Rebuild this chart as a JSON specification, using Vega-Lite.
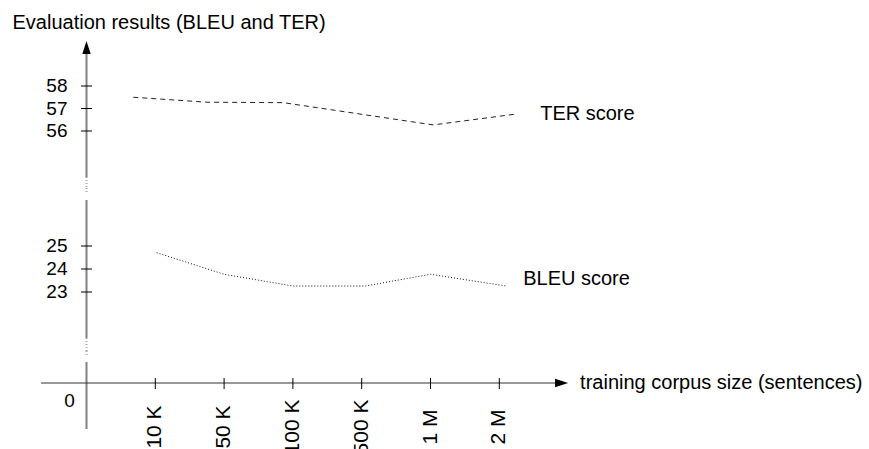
{
  "$schema": "https://vega.github.io/schema/vega-lite/v6.json",
  "padding": 0,
  "background": "white",
  "spacing": 0,
  "bounds": "flush",
  "config": {"view": {"stroke": null}, "text": {"font": "Liberation Sans", "color": "black"}},
  "datasets": {
    "ter": [
      {"pos": 0.68, "score": 57.5},
      {"pos": 1.75, "score": 57.28},
      {"pos": 2.86, "score": 57.26},
      {"pos": 5.04, "score": 56.27},
      {"pos": 6.26, "score": 56.76}
    ],
    "bleu": [
      {"pos": 1.02, "score": 24.71},
      {"pos": 2, "score": 23.77},
      {"pos": 3, "score": 23.26},
      {"pos": 4.05, "score": 23.26},
      {"pos": 5, "score": 23.77},
      {"pos": 6.1, "score": 23.26}
    ],
    "terTicks": [{"v": 56, "label": "56"}, {"v": 57, "label": "57"}, {"v": 58, "label": "58"}],
    "bleuTicks": [{"v": 23, "label": "23"}, {"v": 24, "label": "24"}, {"v": 25, "label": "25"}],
    "sizes": [
      {"pos": 1, "label": "10 K"},
      {"pos": 2, "label": "50 K"},
      {"pos": 3, "label": "100 K"},
      {"pos": 4, "label": "500 K"},
      {"pos": 5, "label": "1 M"},
      {"pos": 6, "label": "2 M"}
    ]
  },
  "vconcat": [
    {
      "width": 869,
      "height": 188,
      "layer": [
        {
          "data": {"values": [{}]},
          "mark": {"type": "rule", "color": "#808080", "strokeWidth": 2},
          "encoding": {
            "x": {"datum": 0, "type": "quantitative", "scale": {"domain": [-1.2573, 11.3735], "nice": false, "zero": false}, "axis": null},
            "y": {"datum": 59.6, "type": "quantitative", "scale": {"domain": [53.467, 61.822], "nice": false, "zero": false}, "axis": null},
            "y2": {"datum": 53.956}
          }
        },
        {
          "data": {"values": [{}]},
          "mark": {"type": "rule", "color": "#a8a8a8", "strokeWidth": 2, "strokeDash": [1, 2]},
          "encoding": {
            "x": {"datum": 0, "type": "quantitative", "scale": {"domain": [-1.2573, 11.3735], "nice": false, "zero": false}, "axis": null},
            "y": {"datum": 53.956, "type": "quantitative", "scale": {"domain": [53.467, 61.822], "nice": false, "zero": false}, "axis": null},
            "y2": {"datum": 53.467}
          }
        },
        {
          "data": {"values": [{}]},
          "mark": {"type": "point", "shape": "M0,0L-0.6,1.86L0.6,1.86Z", "size": 196, "filled": true, "color": "black", "opacity": 1},
          "encoding": {
            "x": {"datum": 0, "type": "quantitative", "scale": {"domain": [-1.2573, 11.3735], "nice": false, "zero": false}, "axis": null},
            "y": {"datum": 60, "type": "quantitative", "scale": {"domain": [53.467, 61.822], "nice": false, "zero": false}, "axis": null}
          }
        },
        {
          "data": {"name": "terTicks"},
          "mark": {"type": "rule", "color": "black", "strokeWidth": 1},
          "encoding": {
            "x": {"datum": -0.08, "type": "quantitative", "scale": {"domain": [-1.2573, 11.3735], "nice": false, "zero": false}, "axis": null},
            "x2": {"datum": 0.08},
            "y": {"field": "v", "type": "quantitative", "scale": {"domain": [53.467, 61.822], "nice": false, "zero": false}, "axis": null}
          }
        },
        {
          "data": {"name": "terTicks"},
          "mark": {"type": "text", "align": "right", "baseline": "middle", "dx": -19, "fontSize": 19},
          "encoding": {
            "x": {"datum": 0, "type": "quantitative", "scale": {"domain": [-1.2573, 11.3735], "nice": false, "zero": false}, "axis": null},
            "y": {"field": "v", "type": "quantitative", "scale": {"domain": [53.467, 61.822], "nice": false, "zero": false}, "axis": null},
            "text": {"field": "label"}
          }
        },
        {
          "data": {"name": "ter"},
          "mark": {"type": "line", "color": "#222222", "strokeWidth": 1, "strokeDash": [5, 4]},
          "encoding": {
            "x": {"field": "pos", "type": "quantitative", "scale": {"domain": [-1.2573, 11.3735], "nice": false, "zero": false}, "axis": null},
            "y": {"field": "score", "type": "quantitative", "scale": {"domain": [53.467, 61.822], "nice": false, "zero": false}, "axis": null}
          }
        },
        {
          "data": {"name": "ter"},
          "transform": [{"filter": "datum.pos > 6"}],
          "mark": {"type": "text", "text": "TER score", "align": "left", "baseline": "middle", "dx": 23, "fontSize": 20},
          "encoding": {
            "x": {"field": "pos", "type": "quantitative", "scale": {"domain": [-1.2573, 11.3735], "nice": false, "zero": false}, "axis": null},
            "y": {"field": "score", "type": "quantitative", "scale": {"domain": [53.467, 61.822], "nice": false, "zero": false}, "axis": null}
          }
        },
        {
          "data": {"values": [{}]},
          "mark": {"type": "text", "text": "Evaluation results (BLEU and TER)", "align": "left", "baseline": "alphabetic", "dx": -74, "dy": -11.5, "fontSize": 20},
          "encoding": {
            "x": {"datum": 0, "type": "quantitative", "scale": {"domain": [-1.2573, 11.3735], "nice": false, "zero": false}, "axis": null},
            "y": {"datum": 60, "type": "quantitative", "scale": {"domain": [53.467, 61.822], "nice": false, "zero": false}, "axis": null}
          }
        }
      ]
    },
    {
      "width": 869,
      "height": 163,
      "layer": [
        {
          "data": {"values": [{}]},
          "mark": {"type": "rule", "color": "#a8a8a8", "strokeWidth": 2, "strokeDash": [1, 2]},
          "encoding": {
            "x": {"datum": 0, "type": "quantitative", "scale": {"domain": [-1.2573, 11.3735], "nice": false, "zero": false}, "axis": null},
            "y": {"datum": 27.522, "type": "quantitative", "scale": {"domain": [20.435, 27.522], "nice": false, "zero": false}, "axis": null},
            "y2": {"datum": 27.304}
          }
        },
        {
          "data": {"values": [{}]},
          "mark": {"type": "rule", "color": "#808080", "strokeWidth": 2},
          "encoding": {
            "x": {"datum": 0, "type": "quantitative", "scale": {"domain": [-1.2573, 11.3735], "nice": false, "zero": false}, "axis": null},
            "y": {"datum": 27.0, "type": "quantitative", "scale": {"domain": [20.435, 27.522], "nice": false, "zero": false}, "axis": null},
            "y2": {"datum": 21.0}
          }
        },
        {
          "data": {"values": [{}]},
          "mark": {"type": "rule", "color": "#a8a8a8", "strokeWidth": 2, "strokeDash": [1, 2]},
          "encoding": {
            "x": {"datum": 0, "type": "quantitative", "scale": {"domain": [-1.2573, 11.3735], "nice": false, "zero": false}, "axis": null},
            "y": {"datum": 21.0, "type": "quantitative", "scale": {"domain": [20.435, 27.522], "nice": false, "zero": false}, "axis": null},
            "y2": {"datum": 20.435}
          }
        },
        {
          "data": {"name": "bleuTicks"},
          "mark": {"type": "rule", "color": "black", "strokeWidth": 1},
          "encoding": {
            "x": {"datum": -0.08, "type": "quantitative", "scale": {"domain": [-1.2573, 11.3735], "nice": false, "zero": false}, "axis": null},
            "x2": {"datum": 0.08},
            "y": {"field": "v", "type": "quantitative", "scale": {"domain": [20.435, 27.522], "nice": false, "zero": false}, "axis": null}
          }
        },
        {
          "data": {"name": "bleuTicks"},
          "mark": {"type": "text", "align": "right", "baseline": "middle", "dx": -19, "fontSize": 19},
          "encoding": {
            "x": {"datum": 0, "type": "quantitative", "scale": {"domain": [-1.2573, 11.3735], "nice": false, "zero": false}, "axis": null},
            "y": {"field": "v", "type": "quantitative", "scale": {"domain": [20.435, 27.522], "nice": false, "zero": false}, "axis": null},
            "text": {"field": "label"}
          }
        },
        {
          "data": {"name": "bleu"},
          "mark": {"type": "line", "color": "#111111", "strokeWidth": 1, "strokeDash": [1, 2]},
          "encoding": {
            "x": {"field": "pos", "type": "quantitative", "scale": {"domain": [-1.2573, 11.3735], "nice": false, "zero": false}, "axis": null},
            "y": {"field": "score", "type": "quantitative", "scale": {"domain": [20.435, 27.522], "nice": false, "zero": false}, "axis": null}
          }
        },
        {
          "data": {"name": "bleu"},
          "transform": [{"filter": "datum.pos > 6"}],
          "mark": {"type": "text", "text": "BLEU score", "align": "left", "baseline": "middle", "dx": 17, "dy": -7, "fontSize": 20},
          "encoding": {
            "x": {"field": "pos", "type": "quantitative", "scale": {"domain": [-1.2573, 11.3735], "nice": false, "zero": false}, "axis": null},
            "y": {"field": "score", "type": "quantitative", "scale": {"domain": [20.435, 27.522], "nice": false, "zero": false}, "axis": null}
          }
        }
      ]
    },
    {
      "width": 869,
      "height": 98,
      "layer": [
        {
          "data": {"values": [{}]},
          "mark": {"type": "rule", "color": "#a8a8a8", "strokeWidth": 2, "strokeDash": [1, 2]},
          "encoding": {
            "x": {"datum": 0, "type": "quantitative", "scale": {"domain": [-1.2573, 11.3735], "nice": false, "zero": false}, "axis": null},
            "y": {"datum": 32, "type": "quantitative", "scale": {"domain": [-66, 32], "nice": false, "zero": false}, "axis": null},
            "y2": {"datum": 28}
          }
        },
        {
          "data": {"values": [{}]},
          "mark": {"type": "rule", "color": "#808080", "strokeWidth": 2},
          "encoding": {
            "x": {"datum": 0, "type": "quantitative", "scale": {"domain": [-1.2573, 11.3735], "nice": false, "zero": false}, "axis": null},
            "y": {"datum": 21, "type": "quantitative", "scale": {"domain": [-66, 32], "nice": false, "zero": false}, "axis": null},
            "y2": {"datum": -46}
          }
        },
        {
          "data": {"values": [{}]},
          "mark": {"type": "rule", "color": "#333333", "strokeWidth": 1.2},
          "encoding": {
            "x": {"datum": -0.661, "type": "quantitative", "scale": {"domain": [-1.2573, 11.3735], "nice": false, "zero": false}, "axis": null},
            "x2": {"datum": 6.88},
            "y": {"datum": 0, "type": "quantitative", "scale": {"domain": [-66, 32], "nice": false, "zero": false}, "axis": null}
          }
        },
        {
          "data": {"values": [{}]},
          "mark": {"type": "point", "shape": "M0,0L-1.86,-0.6L-1.86,0.6Z", "size": 196, "filled": true, "color": "black", "opacity": 1},
          "encoding": {
            "x": {"datum": 7.0, "type": "quantitative", "scale": {"domain": [-1.2573, 11.3735], "nice": false, "zero": false}, "axis": null},
            "y": {"datum": 0, "type": "quantitative", "scale": {"domain": [-66, 32], "nice": false, "zero": false}, "axis": null}
          }
        },
        {
          "data": {"name": "sizes"},
          "mark": {"type": "rule", "color": "black", "strokeWidth": 1},
          "encoding": {
            "x": {"field": "pos", "type": "quantitative", "scale": {"domain": [-1.2573, 11.3735], "nice": false, "zero": false}, "axis": null},
            "y": {"datum": 5, "type": "quantitative", "scale": {"domain": [-66, 32], "nice": false, "zero": false}, "axis": null},
            "y2": {"datum": -6}
          }
        },
        {
          "data": {"name": "sizes"},
          "mark": {"type": "text", "align": "center", "baseline": "middle", "angle": 270, "dx": -44, "fontSize": 21},
          "encoding": {
            "x": {"field": "pos", "type": "quantitative", "scale": {"domain": [-1.2573, 11.3735], "nice": false, "zero": false}, "axis": null},
            "y": {"datum": 0, "type": "quantitative", "scale": {"domain": [-66, 32], "nice": false, "zero": false}, "axis": null},
            "text": {"field": "label"}
          }
        },
        {
          "data": {"values": [{}]},
          "mark": {"type": "text", "text": "0", "align": "center", "baseline": "middle", "dx": -17, "dy": 18, "fontSize": 19},
          "encoding": {
            "x": {"datum": 0, "type": "quantitative", "scale": {"domain": [-1.2573, 11.3735], "nice": false, "zero": false}, "axis": null},
            "y": {"datum": 0, "type": "quantitative", "scale": {"domain": [-66, 32], "nice": false, "zero": false}, "axis": null}
          }
        },
        {
          "data": {"values": [{}]},
          "mark": {"type": "text", "text": "training corpus size (sentences)", "align": "left", "baseline": "middle", "dx": 12, "fontSize": 20},
          "encoding": {
            "x": {"datum": 7.0, "type": "quantitative", "scale": {"domain": [-1.2573, 11.3735], "nice": false, "zero": false}, "axis": null},
            "y": {"datum": 0, "type": "quantitative", "scale": {"domain": [-66, 32], "nice": false, "zero": false}, "axis": null}
          }
        }
      ]
    }
  ]
}
